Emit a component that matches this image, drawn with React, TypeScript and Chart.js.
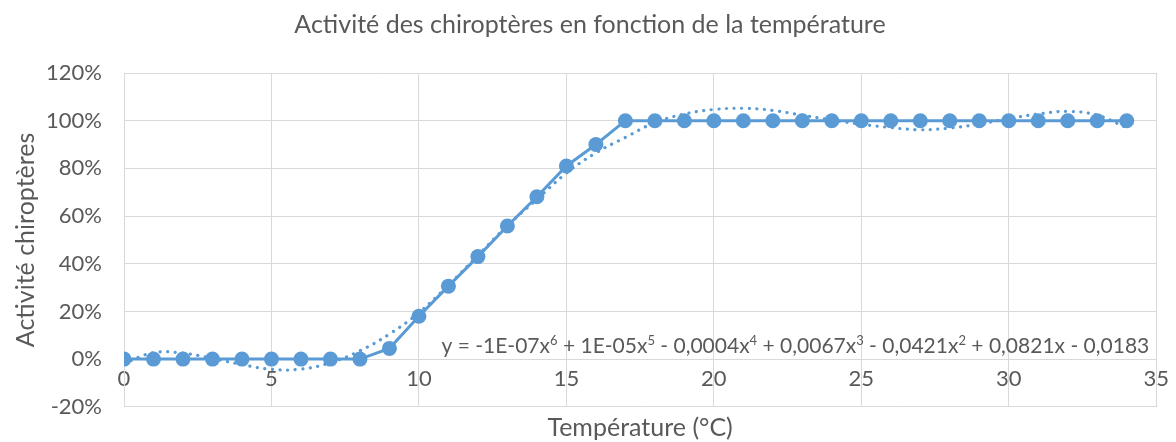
import React, { useEffect, useRef } from "react";
import { Chart, registerables } from "chart.js";

Chart.register(...registerables);

const chartTitle = "Activité des chiroptères en fonction de la température";
const xTitle = "Température (°C)";
const yTitle = "Activité chiroptères";

const temperatures = [0, 1, 2, 3, 4, 5, 6, 7, 8, 9, 10, 11, 12, 13, 14, 15, 16, 17, 18, 19, 20, 21, 22, 23, 24, 25, 26, 27, 28, 29, 30, 31, 32, 33, 34];
const activity = [0, 0, 0, 0, 0, 0, 0, 0, 0, 4.5, 18, 30.6, 43, 55.8, 68.1, 81, 90, 100, 100, 100, 100, 100, 100, 100, 100, 100, 100, 100, 100, 100, 100, 100, 100, 100, 100];
const trendValues = [-1.8, 2.7, 2.5, 0.3, -2.3, -4.3, -4.2, -1.5, 3.5, 10.5, 19.5, 31, 43.5, 56, 67, 78, 86.5, 93, 99.2, 102.8, 104.7, 105.2, 104.3, 102.3, 100.3, 98.5, 97.1, 96.2, 96.9, 98.6, 100.9, 102.8, 103.9, 102.3, 97];

const xMin = 0;
const xMax = 35;
const xStep = 5;
const yMin = -20;
const yMax = 120;
const yStep = 20;

// equation segments: [text, isSuperscript]
const equationParts: [string, boolean][] = [
  ["y = -1E-07x", false], ["6", true],
  [" + 1E-05x", false], ["5", true],
  [" - 0,0004x", false], ["4", true],
  [" + 0,0067x", false], ["3", true],
  [" - 0,0421x", false], ["2", true],
  [" + 0,0821x - 0,0183", false],
];

const FONT = "Lato, 'Open Sans', 'DejaVu Sans', sans-serif";
const TEXT = "#595959";
const GRID = "#D9D9D9";
const BLUE = "#5B9BD5";
const FS_TITLE = 25;
const FS_TICK = 22;
const FS_EQ = 21;

const equationPlugin = {
  id: "equation",
  afterDatasetsDraw(chart: any) {
    const { ctx, chartArea, scales } = chart;
    const y0 = scales.y.getPixelForValue(0);
    const base = `${FS_EQ}px ${FONT}`;
    const sup = `${Math.round(FS_EQ * 0.62)}px ${FONT}`;
    ctx.save();
    let total = 0;
    for (const [t, s] of equationParts) {
      ctx.font = s ? sup : base;
      total += ctx.measureText(t).width;
    }
    let x = chartArea.right - 7 - total;
    const baseline = y0 - 6;
    ctx.fillStyle = TEXT;
    ctx.textBaseline = "alphabetic";
    ctx.textAlign = "left";
    for (const [t, s] of equationParts) {
      ctx.font = s ? sup : base;
      ctx.fillText(t, x, s ? baseline - FS_EQ * 0.38 : baseline);
      x += ctx.measureText(t).width;
    }
    ctx.restore();
  },
};

export default function App() {
  const ref = useRef<HTMLCanvasElement>(null);
  useEffect(() => {
    if (!ref.current) return;
    const chart = new Chart(ref.current, {
      type: "line",
      data: {
        datasets: [
          {
            label: "Activité",
            data: temperatures.map((t, i) => ({ x: t, y: activity[i] })),
            borderColor: BLUE,
            backgroundColor: BLUE,
            borderWidth: 3,
            pointRadius: 7.5,
            pointHoverRadius: 7.5,
            pointBorderWidth: 0,
            pointBackgroundColor: BLUE,
            tension: 0,
            order: 1,
            xAxisID: "x",
            yAxisID: "y",
          },
          {
            label: "Tendance",
            data: temperatures.map((t, i) => ({ x: t, y: trendValues[i] })),
            borderColor: BLUE,
            borderWidth: 3.2,
            borderDash: [0.1, 7.5],
            borderCapStyle: "round",
            pointRadius: 0,
            tension: 0.4,
            order: 2,
            xAxisID: "x",
            yAxisID: "y",
          },
        ],
      },
      options: {
        animation: false,
        responsive: false,
        layout: { padding: { left: 4, right: 0, top: 0, bottom: 0 } },
        plugins: {
          legend: { display: false },
          tooltip: { enabled: false },
          title: {
            display: true,
            text: chartTitle,
            color: TEXT,
            font: { family: FONT, size: FS_TITLE, weight: "normal", lineHeight: 1.2 },
            padding: { top: 10, bottom: 33 },
          },
        },
        scales: {
          x: {
            type: "linear",
            position: "bottom",
            min: xMin,
            max: xMax,
            ticks: { display: false, stepSize: xStep },
            grid: { color: GRID, lineWidth: 1, drawTicks: false },
            border: { color: GRID, width: 1 },
            title: {
              display: true,
              text: xTitle,
              color: TEXT,
              font: { family: FONT, size: FS_TITLE, lineHeight: 1.1 },
              padding: { top: 0, bottom: 0 },
            },
            afterFit: (s: any) => { s.height = 35; },
          },
          x2: {
            type: "linear",
            axis: "x",
            position: { y: 0 },
            min: xMin,
            max: xMax,
            ticks: { stepSize: xStep, color: TEXT, font: { family: FONT, size: FS_TICK }, padding: 7, maxRotation: 0 },
            grid: { display: false, drawTicks: false },
            border: { display: false },
          },
          y: {
            type: "linear",
            position: "left",
            min: yMin,
            max: yMax,
            ticks: {
              stepSize: yStep,
              color: TEXT,
              font: { family: FONT, size: FS_TICK },
              padding: 22,
              callback: (v: any) => `${v}%`,
            },
            grid: { color: GRID, lineWidth: 1, drawTicks: false },
            border: { color: GRID, width: 1 },
            title: {
              display: true,
              text: yTitle,
              color: TEXT,
              font: { family: FONT, size: FS_TITLE, lineHeight: 1.1 },
              padding: { top: 8, bottom: 0 },
            },
            afterFit: (s: any) => { s.width = 120; },
          },
          yRight: {
            type: "linear",
            axis: "y",
            position: "right",
            min: yMin,
            max: yMax,
            ticks: { display: false },
            grid: { display: false, drawTicks: false },
            border: { display: false },
            afterFit: (s: any) => { s.width = 14; },
          },
        },
      },
      plugins: [equationPlugin],
    } as any);
    return () => chart.destroy();
  }, []);
  return (
    <div style={{ position: "absolute", left: 0, top: 0, width: 1176, height: 442, background: "#fff" }}>
      <canvas ref={ref} width={1176} height={442} />
    </div>
  );
}
